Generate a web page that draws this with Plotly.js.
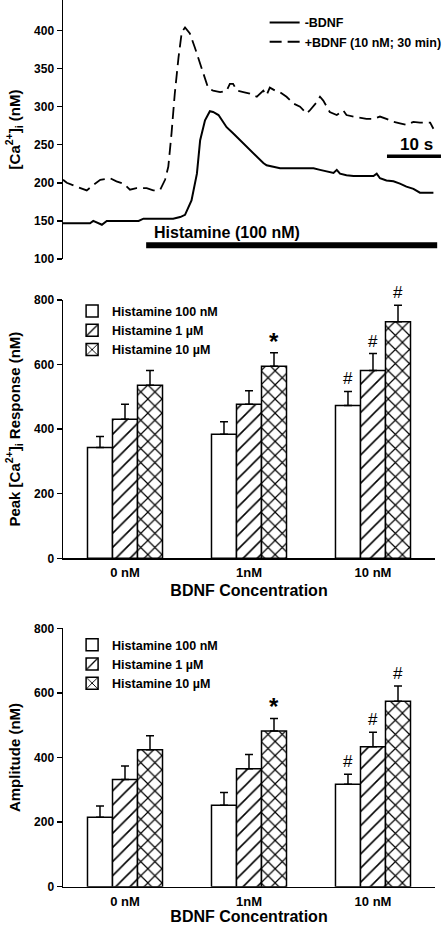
<!DOCTYPE html>
<html><head><meta charset="utf-8">
<script src="https://cdn.plot.ly/plotly-3.0.1.min.js"></script>
<style>html,body{margin:0;padding:0;background:#fff;} #chart{width:446px;height:925px;}</style>
</head><body><div id="chart"></div>
<script>
// ---- Panel A: [Ca2+]i traces (time in s, concentration in nM) ----
const timeNoBDNF = [0,5.0,5.6,7.2,8.1,14.0,14.9,20.4,21.7,22.6,23.8,24.8,25.4,26.3,27.2,27.8,28.8,30.3,31.5,32.8,34.0,35.2,36.5,37.1,37.7,39.0,40.2,43.9,46.4,47.6,48.8,50.1,50.7,51.3,52.5,53.8,56.2,57.5,58.1,58.7,59.9,61.2,62.4,63.6,64.9,66.1,68.6];
const caNoBDNF = [147,147,150,145,150,150,153,153,155,158,177,212,256,282,294,293,289,273,265,256,247,239,230,226,223,221,219,219,219,217,215,213,217,212,210,209,209,209,212,206,203,202,199,195,192,187,187];
const timeBDNF = [0,0.7,2.5,4.4,5.6,6.9,8.7,9.9,11.2,12.4,13.6,15.5,16.7,18.0,18.9,19.5,20.1,20.7,21.4,22.0,22.6,23.5,24.4,25.4,26.3,26.9,27.8,29.1,30.3,30.9,31.5,32.2,33.4,34.6,35.9,36.5,37.1,37.7,38.3,39.3,40.2,41.4,42.7,43.9,45.1,45.7,47.0,47.6,48.2,49.4,50.7,51.9,52.5,53.8,56.2,57.5,58.7,59.9,61.2,62.4,63.6,64.9,66.1,68.0,68.6];
const caBDNF = [204,200,195,190,197,204,206,202,199,191,193,193,190,191,204,221,265,317,365,398,404,396,378,356,335,324,321,319,321,330,330,321,319,317,313,317,321,315,325,321,319,313,304,300,291,295,306,313,308,293,289,295,289,287,284,284,287,284,280,278,276,280,279,279,271];
const traceNames = ['-BDNF', '+BDNF (10 nM; 30 min)'];
const histamineStart = 15.4, histamineEnd = 69.3, histamineLevel = 118;
const histamineLabel = 'Histamine (100 nM)';
const scaleBarStart = 60, scaleBarEnd = 70, scaleBarLevel = 235;
const scaleBarLabel = '10 s';

// ---- Panels B & C: bar charts ----
const bdnfCats = ['0 nM', '1nM', '10 nM'];
const seriesNames = ['Histamine 100 nM', 'Histamine 1 µM', 'Histamine 10 µM'];
const peak100 = [343, 384, 473];
const peak100Err = [34, 39, 44];
const peak1 = [431, 477, 582];
const peak1Err = [46, 42, 52];
const peak10 = [536, 595, 733];
const peak10Err = [46, 42, 51];
const amp100 = [215, 252, 317];
const amp100Err = [35, 40, 31];
const amp1 = [332, 365, 433];
const amp1Err = [42, 44, 45];
const amp10 = [424, 482, 574];
const amp10Err = [43, 39, 47];
const sig100 = ['', '', '#'];
const sig1 = ['', '', '#'];
const sig10 = ['', '*', '#'];
const yTicksTop = [100, 150, 200, 250, 300, 350, 400];
const yTicksBar = [0, 200, 400, 600, 800];

const FONT = 'Liberation Sans, Arial, Helvetica, sans-serif';
const BARGAP = 0.395;
const patterns = [
  {shape: '', bgcolor: '#fff', fgcolor: '#000'},
  {shape: '/', bgcolor: '#fff', fgcolor: '#000', size: 10, solidity: 0.16, fillmode: 'replace'},
  {shape: 'x', bgcolor: '#fff', fgcolor: '#000', size: 10, solidity: 0.22, fillmode: 'replace'}
];

const traces = [
  {x: timeNoBDNF, y: caNoBDNF, type: 'scatter', mode: 'lines', name: traceNames[0],
   line: {color: '#000', width: 2}, xaxis: 'x', yaxis: 'y', legend: 'legend'},
  {x: timeBDNF, y: caBDNF, type: 'scatter', mode: 'lines', name: traceNames[1],
   line: {color: '#000', width: 1.8, dash: '12px,6px'}, xaxis: 'x', yaxis: 'y', legend: 'legend'}
];

const annotations = [];
function addBars(vals, errs, sigs, idx, xa, ya, lg) {
  traces.push({
    x: bdnfCats, y: vals, type: 'bar', name: seriesNames[idx],
    xaxis: xa, yaxis: ya, legend: lg, offsetgroup: String(idx),
    marker: {color: '#fff', line: {color: '#000', width: 1.5}, pattern: patterns[idx]},
    error_y: {type: 'data', array: errs, arrayminus: errs.map(() => 0), symmetric: false,
              color: '#000', thickness: 1.5, width: 4}
  });
  const bw = (1 - BARGAP) / 3;
  sigs.forEach((s, k) => {
    if (!s) return;
    annotations.push({
      xref: xa, yref: ya, x: k + (idx - 1) * bw, y: vals[k] + errs[k],
      text: s, showarrow: false, xanchor: 'center', yanchor: 'bottom',
      yshift: s === '*' ? -4 : 1,
      font: s === '*' ? {size: 24, weight: 'bold', family: FONT} : {size: 17, family: FONT}
    });
  });
}
addBars(peak100, peak100Err, sig100, 0, 'x2', 'y2', 'legend2');
addBars(peak1, peak1Err, sig1, 1, 'x2', 'y2', 'legend2');
addBars(peak10, peak10Err, sig10, 2, 'x2', 'y2', 'legend2');
addBars(amp100, amp100Err, sig100, 0, 'x3', 'y3', 'legend3');
addBars(amp1, amp1Err, sig1, 1, 'x3', 'y3', 'legend3');
addBars(amp10, amp10Err, sig10, 2, 'x3', 'y3', 'legend3');

annotations.push({xref: 'x', yref: 'y', x: histamineStart + 1.1, y: 135, text: histamineLabel,
  showarrow: false, xanchor: 'left', yanchor: 'middle', font: {size: 16, weight: 'bold', family: FONT}});
annotations.push({xref: 'x', yref: 'y', x: (scaleBarStart + scaleBarEnd) / 2 + 0.5, y: 250, text: scaleBarLabel,
  showarrow: false, xanchor: 'center', yanchor: 'middle', font: {size: 17, weight: 'bold', family: FONT}});

const shapes = [
  {type: 'line', xref: 'x', yref: 'y', x0: histamineStart, x1: histamineEnd, y0: histamineLevel, y1: histamineLevel,
   line: {color: '#000', width: 6}},
  {type: 'line', xref: 'x', yref: 'y', x0: scaleBarStart, x1: scaleBarEnd, y0: scaleBarLevel, y1: scaleBarLevel,
   line: {color: '#000', width: 3.5}}
];

const yCommon = {
  ticks: 'outside', ticklen: 5, tickwidth: 1.5, tickcolor: '#000',
  showline: true, linewidth: 1.5, linecolor: '#000', showgrid: false, zeroline: false,
  tickfont: {size: 12, weight: 'bold', family: FONT}
};
const xBar = {
  type: 'category', range: [-0.5, 2.5], domain: [0, 0.9815],
  showline: true, linewidth: 1.5, linecolor: '#000', ticks: '', showgrid: false, zeroline: false,
  tickfont: {size: 13, weight: 'bold', family: FONT}, ticklabelstandoff: 2
};
const titleFont = {size: 15, weight: 'bold', family: FONT};
const xTitleFont = {size: 16, weight: 'bold', family: FONT};
const legendCommon = {xanchor: 'left', yanchor: 'top', bgcolor: 'rgba(0,0,0,0)', borderwidth: 0,
  font: {size: 12.5, weight: 'bold', family: FONT}, traceorder: 'normal'};

const layout = {
  width: 446, height: 925,
  margin: {l: 63, r: 4, t: 0, b: 0, autoexpand: false},
  paper_bgcolor: '#fff', plot_bgcolor: '#fff',
  font: {family: FONT, color: '#000'},
  barmode: 'group', bargap: BARGAP, bargroupgap: 0,
  showlegend: true,
  xaxis: {domain: [0, 1], range: [0, 70.19], visible: false, anchor: 'y'},
  yaxis: Object.assign({}, yCommon, {domain: [0.72, 1], range: [100, 440], tickvals: yTicksTop, anchor: 'x',
    title: {text: '[Ca<sup>2+</sup>]<sub>i</sub> (nM)', font: titleFont, standoff: 10}}),
  xaxis2: Object.assign({}, xBar, {anchor: 'y2',
    title: {text: 'BDNF Concentration', font: xTitleFont, standoff: 5}}),
  yaxis2: Object.assign({}, yCommon, {domain: [0.39643, 0.67568], range: [0, 800], tickvals: yTicksBar, anchor: 'x2',
    title: {text: 'Peak [Ca<sup>2+</sup>]<sub>i</sub> Response (nM)', font: titleFont, standoff: 10}}),
  xaxis3: Object.assign({}, xBar, {anchor: 'y3',
    title: {text: 'BDNF Concentration', font: xTitleFont, standoff: 1}}),
  yaxis3: Object.assign({}, yCommon, {domain: [0.04141, 0.32076], range: [0, 800], tickvals: yTicksBar, anchor: 'x3',
    title: {text: 'Amplitude (nM)', font: titleFont, standoff: 10}}),
  legend: Object.assign({}, legendCommon, {x: 0.532, y: 0.9915}),
  legend2: Object.assign({}, legendCommon, {x: 0.024, y: 0.6795}),
  legend3: Object.assign({}, legendCommon, {x: 0.024, y: 0.3189}),
  annotations: annotations,
  shapes: shapes
};

Plotly.newPlot('chart', traces, layout, {staticPlot: true, displayModeBar: false});
</script></body></html>
